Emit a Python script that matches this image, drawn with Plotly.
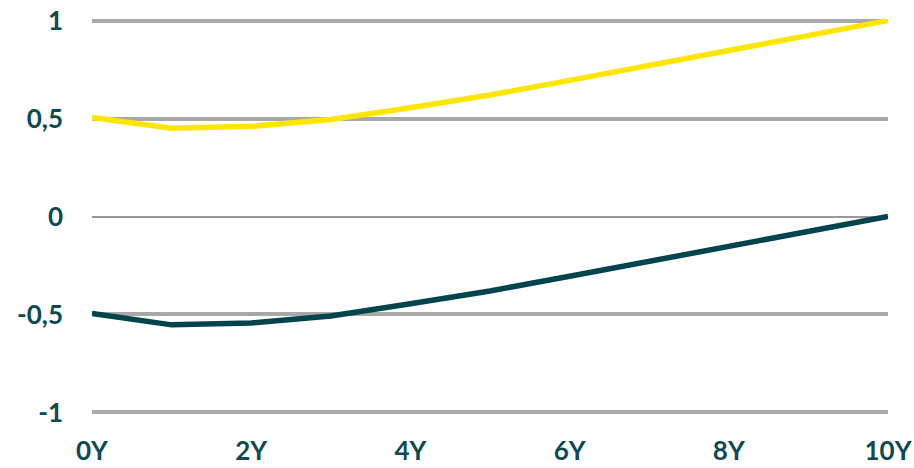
import plotly.graph_objects as go

years = [0, 1, 2, 3, 4, 5, 6, 7, 8, 9, 10]
tick_vals = [0, 2, 4, 6, 8, 10]
tick_text = ["0Y", "2Y", "4Y", "6Y", "8Y", "10Y"]
y_tick_vals = [-1, -0.5, 0, 0.5, 1]
y_tick_text = ["-1", "-0,5", "0", "0,5", "1"]

yellow_series = [0.505, 0.45, 0.46, 0.495, 0.555, 0.62, 0.695, 0.77, 0.845, 0.92, 1.0]
dark_series = [-0.495, -0.553, -0.543, -0.508, -0.445, -0.38, -0.305, -0.23, -0.155, -0.078, 0.0]

text_color = "#0E4A52"
tick_font = dict(family="Lato", size=26, color=text_color, weight="bold")

fig = go.Figure()
fig.add_trace(go.Scatter(x=years, y=yellow_series, mode="lines",
                         line=dict(color="#FFE600", width=5.5), cliponaxis=False,
                         showlegend=False, hoverinfo="skip"))
fig.add_trace(go.Scatter(x=years, y=dark_series, mode="lines",
                         line=dict(color="#00444E", width=5.5), cliponaxis=False,
                         showlegend=False, hoverinfo="skip"))

fig.update_layout(
    width=914, height=468,
    margin=dict(l=92, r=26, t=19, b=54),
    paper_bgcolor="white", plot_bgcolor="white",
)
fig.update_xaxes(range=[0, 10], tickvals=tick_vals, ticktext=tick_text,
                 showgrid=False, zeroline=False, showline=False, automargin=False,
                 ticklabelstandoff=19, tickfont=tick_font)
fig.update_yaxes(range=[-1.008, 1.008], tickvals=y_tick_vals, ticktext=y_tick_text,
                 showgrid=True, gridcolor="#A8A8A8", gridwidth=3.5,
                 zeroline=True, zerolinecolor="#999999", zerolinewidth=2,
                 showline=False, automargin=False, ticklabelstandoff=28,
                 tickfont=tick_font)

fig.write_html("out.html", config={"displayModeBar": False},
               post_script="document.body.style.margin='0';document.body.style.overflow='hidden';")
